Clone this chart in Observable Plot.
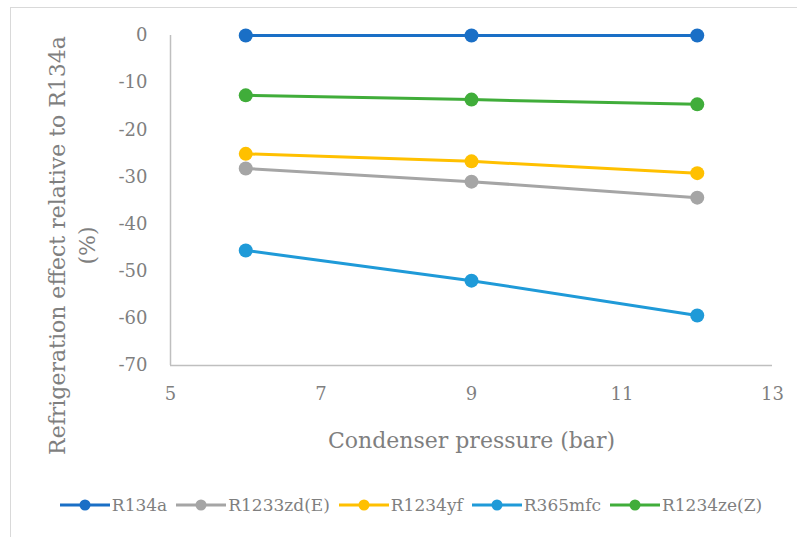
<!DOCTYPE html>
<html>
<head>
<meta charset="utf-8">
<script src="https://cdn.jsdelivr.net/npm/d3@7"></script>
<script src="https://cdn.jsdelivr.net/npm/@observablehq/plot@0.6"></script>
<style>
  body { margin: 0; background: #fff; }
  #wrap { position: relative; width: 797px; height: 537px; overflow: hidden; font-family: 'DejaVu Serif', 'Liberation Serif', serif; }
  #frame { position: absolute; left: 10px; top: 7px; width: 800px; height: 540px; border: 1px solid #d9d9d9; box-sizing: border-box; }
  #chart { position: absolute; left: 0; top: 0; }
  #chart svg text { font-family: 'DejaVu Serif', 'Liberation Serif', serif; }
  #legend { position: absolute; left: 0; width: 797px; top: 495px; display: flex; justify-content: center; padding-left: 34px; box-sizing: border-box; }
  .item { display: flex; align-items: center; margin-right: 9px; font-size: 17px; color: #7f7f7f; }
  .item svg { margin-right: 2px; }
</style>
</head>
<body>
<div id="wrap">
  <div id="frame"></div>
  <div id="chart"></div>
  <div id="legend"></div>
</div>
<script>
const pressures = [6, 9, 12];
const seriesNames = ["R134a", "R1233zd(E)", "R1234yf", "R365mfc", "R1234ze(Z)"];
const seriesColors = ["#1a6fc6", "#a5a5a5", "#ffc000", "#1f9ad8", "#40ad3a"];
const R134a = [0, 0, 0];
const R1233zdE = [-28.2, -31.0, -34.4];
const R1234yf = [-25.1, -26.7, -29.2];
const R365mfc = [-45.6, -52.0, -59.4];
const R1234zeZ = [-12.7, -13.6, -14.6];
const xTicks = [5, 7, 9, 11, 13];
const yTicks = [0, -10, -20, -30, -40, -50, -60, -70];

const seriesValues = [R134a, R1233zdE, R1234yf, R365mfc, R1234zeZ];
const data = [];
seriesNames.forEach((name, i) => {
  pressures.forEach((p, j) => data.push({series: name, x: p, y: seriesValues[i][j]}));
});

const axisColor = "#bfbfbf";
const textColor = "#7f7f7f";
const fontStack = "'DejaVu Serif', 'Liberation Serif', serif";

const plot = Plot.plot({
  width: 797,
  height: 460,
  marginLeft: 170,
  marginRight: 25,
  marginTop: 35,
  marginBottom: 95,
  style: {fontFamily: fontStack, fontSize: "18px", color: textColor, background: "transparent"},
  x: {domain: [5, 13], ticks: xTicks, label: null},
  y: {domain: [-70, 0], ticks: yTicks, label: null},
  color: {domain: seriesNames, range: seriesColors},
  marks: [
    Plot.axisY({ticks: yTicks, tickFormat: d => String(d), tickSize: 0, tickPadding: 23, fontSize: 18, fill: textColor, label: null}),
    Plot.axisX({ticks: xTicks, tickFormat: d => String(d), tickSize: 0, tickPadding: 22, fontSize: 18, fill: textColor, label: null}),
    Plot.ruleX([5], {stroke: axisColor, strokeWidth: 1.5}),
    Plot.ruleY([-70], {stroke: axisColor, strokeWidth: 1.5}),
    Plot.line(data, {x: "x", y: "y", z: "series", stroke: "series", strokeWidth: 3}),
    Plot.dot(data, {x: "x", y: "y", fill: "series", r: 7}),
    Plot.text(["Condenser pressure (bar)"], {frameAnchor: "bottom", dy: 82, fontSize: 22, fill: textColor}),
    Plot.text(["Refrigeration effect relative to R134a\n(%)"], {frameAnchor: "left", rotate: -90, dx: -100, dy: 45, fontSize: 22, lineHeight: 1.35, fill: textColor, textAnchor: "middle"})
  ]
});
document.getElementById("chart").appendChild(plot);

const legend = document.getElementById("legend");
seriesNames.forEach((name, i) => {
  const item = document.createElement("div");
  item.className = "item";
  item.innerHTML = `<svg width="50" height="14"><line x1="0" x2="50" y1="7" y2="7" stroke="${seriesColors[i]}" stroke-width="3"/><circle cx="25" cy="7" r="5.5" fill="${seriesColors[i]}"/></svg><span>${name}</span>`;
  legend.appendChild(item);
});
</script>
</body>
</html>
